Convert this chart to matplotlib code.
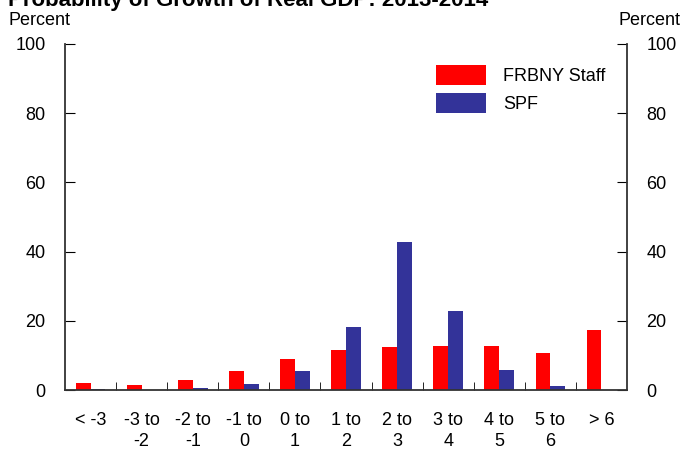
import numpy as np
import matplotlib
matplotlib.use("Agg")
import matplotlib.pyplot as plt

plt.rcParams['font.family'] = ['Liberation Sans', 'DejaVu Sans']

categories = ["< -3", "-3 to\n-2", "-2 to\n-1", "-1 to\n0", "0 to\n1", "1 to\n2",
              "2 to\n3", "3 to\n4", "4 to\n5", "5 to\n6", "> 6"]
frbny = [2.1, 1.5, 2.9, 5.6, 9.0, 11.6, 12.5, 12.8, 12.8, 10.7, 17.4]
spf = [0.2, 0.1, 0.6, 1.8, 5.6, 18.3, 42.8, 22.9, 5.8, 1.3, 0.1]
yticks = [0, 20, 40, 60, 80, 100]

fig = plt.figure(figsize=(6.85, 4.53), dpi=100)
ax = fig.add_axes([0.0949, 0.139, 0.8204, 0.764])

x = np.arange(len(categories))
w = 0.29
ax.bar(x - w / 2, frbny, w, color="#ff0000", label="FRBNY Staff")
ax.bar(x + w / 2, spf, w, color="#333399", label="SPF")

ax.set_xlim(-0.5, len(categories) - 0.5)
ax.set_ylim(0, 100)
ax.set_yticks(yticks)
ax.tick_params(axis="y", direction="in", length=7, labelsize=13,
               left=True, right=True, labelleft=True, labelright=True, pad=14)
ax.set_xticks(x)
ax.set_xticklabels(categories, fontsize=13, linespacing=1.3)
ax.tick_params(axis="x", length=0, pad=16)
ax.set_xticks(x[:-1] + 0.5, minor=True)
ax.tick_params(axis="x", which="minor", direction="in", length=6)

for s in ["left", "right", "bottom"]:
    ax.spines[s].set_color("#333333")
    ax.spines[s].set_linewidth(1.3)
ax.spines["top"].set_visible(False)

ax.legend(loc="upper right", bbox_to_anchor=(0.99, 0.985), frameon=False,
          fontsize=13, handlelength=2.8, handleheight=1.3, labelspacing=0.45,
          handletextpad=0.9)

fig.text(0.012, 0.955, "Percent", fontsize=13, va="center", ha="left")
fig.text(0.993, 0.955, "Percent", fontsize=13, va="center", ha="right")
fig.text(0.012, 1 - 6 / 453, "Probability of Growth of Real GDP: 2013-2014",
         fontsize=16, fontweight="bold", va="baseline", ha="left")

fig.savefig("out.png", dpi=100)
